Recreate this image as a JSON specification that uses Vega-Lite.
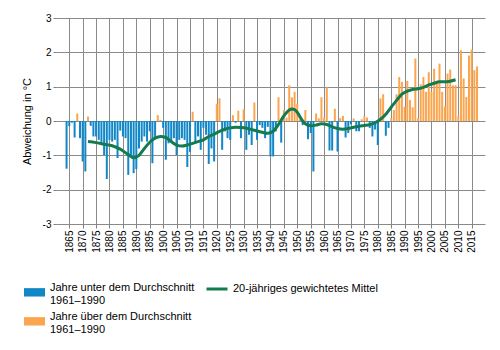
{
  "$schema": "https://vega.github.io/schema/vega-lite/v6.json",
  "autosize": {"type": "none"},
  "width": 428,
  "height": 206,
  "padding": {"left": 57, "top": 18, "right": 15, "bottom": 126},
  "background": "white",
  "config": {
    "font": "Liberation Sans",
    "view": {"stroke": null},
    "axis": {"labelColor": "#000", "titleColor": "#000", "tickColor": "#808080", "gridColor": "#8a8a8a", "gridWidth": 1, "domain": false, "labelOverlap": false}
  },
  "datasets": {
    "bars": [
      {"Jahr":1864,"Wert":-1.39,"Typ":"unter"},{"Jahr":1865,"Wert":-0.15,"Typ":"unter"},{"Jahr":1866,"Wert":-0.05,"Typ":"unter"},{"Jahr":1867,"Wert":-0.48,"Typ":"unter"},{"Jahr":1868,"Wert":0.22,"Typ":"über"},{"Jahr":1869,"Wert":-0.5,"Typ":"unter"},
      {"Jahr":1870,"Wert":-1.18,"Typ":"unter"},{"Jahr":1871,"Wert":-1.47,"Typ":"unter"},{"Jahr":1872,"Wert":0.13,"Typ":"über"},{"Jahr":1873,"Wert":-0.14,"Typ":"unter"},{"Jahr":1874,"Wert":-0.45,"Typ":"unter"},{"Jahr":1875,"Wert":-0.45,"Typ":"unter"},{"Jahr":1876,"Wert":-0.55,"Typ":"unter"},{"Jahr":1877,"Wert":-0.65,"Typ":"unter"},{"Jahr":1878,"Wert":-0.99,"Typ":"unter"},{"Jahr":1879,"Wert":-1.69,"Typ":"unter"},
      {"Jahr":1880,"Wert":-0.55,"Typ":"unter"},{"Jahr":1881,"Wert":-0.6,"Typ":"unter"},{"Jahr":1882,"Wert":-0.55,"Typ":"unter"},{"Jahr":1883,"Wert":-1.08,"Typ":"unter"},{"Jahr":1884,"Wert":-0.28,"Typ":"unter"},{"Jahr":1885,"Wert":-0.45,"Typ":"unter"},{"Jahr":1886,"Wert":-0.5,"Typ":"unter"},{"Jahr":1887,"Wert":-1.57,"Typ":"unter"},{"Jahr":1888,"Wert":-1.0,"Typ":"unter"},{"Jahr":1889,"Wert":-1.52,"Typ":"unter"},
      {"Jahr":1890,"Wert":-1.4,"Typ":"unter"},{"Jahr":1891,"Wert":-0.8,"Typ":"unter"},{"Jahr":1892,"Wert":-0.6,"Typ":"unter"},{"Jahr":1893,"Wert":-0.45,"Typ":"unter"},{"Jahr":1894,"Wert":-0.6,"Typ":"unter"},{"Jahr":1895,"Wert":-0.3,"Typ":"unter"},{"Jahr":1896,"Wert":-1.23,"Typ":"unter"},{"Jahr":1897,"Wert":-0.5,"Typ":"unter"},{"Jahr":1898,"Wert":0.17,"Typ":"über"},{"Jahr":1899,"Wert":0.03,"Typ":"über"},
      {"Jahr":1900,"Wert":-0.2,"Typ":"unter"},{"Jahr":1901,"Wert":-1.13,"Typ":"unter"},{"Jahr":1902,"Wert":-0.65,"Typ":"unter"},{"Jahr":1903,"Wert":-0.6,"Typ":"unter"},{"Jahr":1904,"Wert":-0.5,"Typ":"unter"},{"Jahr":1905,"Wert":-0.99,"Typ":"unter"},{"Jahr":1906,"Wert":-0.55,"Typ":"unter"},{"Jahr":1907,"Wert":-0.5,"Typ":"unter"},{"Jahr":1908,"Wert":-0.55,"Typ":"unter"},{"Jahr":1909,"Wert":-1.34,"Typ":"unter"},
      {"Jahr":1910,"Wert":-0.9,"Typ":"unter"},{"Jahr":1911,"Wert":0.27,"Typ":"über"},{"Jahr":1912,"Wert":-0.65,"Typ":"unter"},{"Jahr":1913,"Wert":-0.45,"Typ":"unter"},{"Jahr":1914,"Wert":-0.84,"Typ":"unter"},{"Jahr":1915,"Wert":-0.2,"Typ":"unter"},{"Jahr":1916,"Wert":-0.4,"Typ":"unter"},{"Jahr":1917,"Wert":-1.25,"Typ":"unter"},{"Jahr":1918,"Wert":-0.8,"Typ":"unter"},{"Jahr":1919,"Wert":-1.18,"Typ":"unter"},
      {"Jahr":1920,"Wert":0.5,"Typ":"über"},{"Jahr":1921,"Wert":0.66,"Typ":"über"},{"Jahr":1922,"Wert":-0.84,"Typ":"unter"},{"Jahr":1923,"Wert":-0.3,"Typ":"unter"},{"Jahr":1924,"Wert":-0.5,"Typ":"unter"},{"Jahr":1925,"Wert":-0.55,"Typ":"unter"},{"Jahr":1926,"Wert":0.17,"Typ":"über"},{"Jahr":1927,"Wert":-0.05,"Typ":"unter"},{"Jahr":1928,"Wert":0.3,"Typ":"über"},{"Jahr":1929,"Wert":-0.5,"Typ":"unter"},
      {"Jahr":1930,"Wert":0.34,"Typ":"über"},{"Jahr":1931,"Wert":-0.84,"Typ":"unter"},{"Jahr":1932,"Wert":-0.4,"Typ":"unter"},{"Jahr":1933,"Wert":-0.7,"Typ":"unter"},{"Jahr":1934,"Wert":0.54,"Typ":"über"},{"Jahr":1935,"Wert":-0.55,"Typ":"unter"},{"Jahr":1936,"Wert":-0.12,"Typ":"unter"},{"Jahr":1937,"Wert":-0.2,"Typ":"unter"},{"Jahr":1938,"Wert":-0.5,"Typ":"unter"},{"Jahr":1939,"Wert":-0.17,"Typ":"unter"},
      {"Jahr":1940,"Wert":-1.03,"Typ":"unter"},{"Jahr":1941,"Wert":-1.03,"Typ":"unter"},{"Jahr":1942,"Wert":-0.3,"Typ":"unter"},{"Jahr":1943,"Wert":0.69,"Typ":"über"},{"Jahr":1944,"Wert":-0.63,"Typ":"unter"},{"Jahr":1945,"Wert":0.32,"Typ":"über"},{"Jahr":1946,"Wert":0.1,"Typ":"über"},{"Jahr":1947,"Wert":1.04,"Typ":"über"},{"Jahr":1948,"Wert":0.69,"Typ":"über"},{"Jahr":1949,"Wert":0.85,"Typ":"über"},
      {"Jahr":1950,"Wert":0.5,"Typ":"über"},{"Jahr":1951,"Wert":0.05,"Typ":"über"},{"Jahr":1952,"Wert":-0.12,"Typ":"unter"},{"Jahr":1953,"Wert":0.32,"Typ":"über"},{"Jahr":1954,"Wert":-0.53,"Typ":"unter"},{"Jahr":1955,"Wert":-0.35,"Typ":"unter"},{"Jahr":1956,"Wert":-1.47,"Typ":"unter"},{"Jahr":1957,"Wert":0.22,"Typ":"über"},{"Jahr":1958,"Wert":0.08,"Typ":"über"},{"Jahr":1959,"Wert":0.69,"Typ":"über"},
      {"Jahr":1960,"Wert":0.1,"Typ":"über"},{"Jahr":1961,"Wert":0.98,"Typ":"über"},{"Jahr":1962,"Wert":-0.86,"Typ":"unter"},{"Jahr":1963,"Wert":-0.86,"Typ":"unter"},{"Jahr":1964,"Wert":0.36,"Typ":"über"},{"Jahr":1965,"Wert":-0.89,"Typ":"unter"},{"Jahr":1966,"Wert":0.08,"Typ":"über"},{"Jahr":1967,"Wert":0.15,"Typ":"über"},{"Jahr":1968,"Wert":-0.48,"Typ":"unter"},{"Jahr":1969,"Wert":-0.35,"Typ":"unter"},
      {"Jahr":1970,"Wert":-0.1,"Typ":"unter"},{"Jahr":1971,"Wert":0.07,"Typ":"über"},{"Jahr":1972,"Wert":-0.3,"Typ":"unter"},{"Jahr":1973,"Wert":-0.3,"Typ":"unter"},{"Jahr":1974,"Wert":0.05,"Typ":"über"},{"Jahr":1975,"Wert":0.14,"Typ":"über"},{"Jahr":1976,"Wert":0.1,"Typ":"über"},{"Jahr":1977,"Wert":-0.2,"Typ":"unter"},{"Jahr":1978,"Wert":-0.45,"Typ":"unter"},{"Jahr":1979,"Wert":-0.25,"Typ":"unter"},
      {"Jahr":1980,"Wert":-0.7,"Typ":"unter"},{"Jahr":1981,"Wert":0.66,"Typ":"über"},{"Jahr":1982,"Wert":0.78,"Typ":"über"},{"Jahr":1983,"Wert":-0.43,"Typ":"unter"},{"Jahr":1984,"Wert":-0.2,"Typ":"unter"},{"Jahr":1985,"Wert":0.08,"Typ":"über"},{"Jahr":1986,"Wert":0.32,"Typ":"über"},{"Jahr":1987,"Wert":0.78,"Typ":"über"},{"Jahr":1988,"Wert":1.28,"Typ":"über"},{"Jahr":1989,"Wert":1.14,"Typ":"über"},
      {"Jahr":1990,"Wert":0.42,"Typ":"über"},{"Jahr":1991,"Wert":1.17,"Typ":"über"},{"Jahr":1992,"Wert":0.61,"Typ":"über"},{"Jahr":1993,"Wert":0.4,"Typ":"über"},{"Jahr":1994,"Wert":1.82,"Typ":"über"},{"Jahr":1995,"Wert":0.08,"Typ":"über"},{"Jahr":1996,"Wert":1.07,"Typ":"über"},{"Jahr":1997,"Wert":1.28,"Typ":"über"},{"Jahr":1998,"Wert":0.85,"Typ":"über"},{"Jahr":1999,"Wert":1.42,"Typ":"über"},
      {"Jahr":2000,"Wert":0.85,"Typ":"über"},{"Jahr":2001,"Wert":1.52,"Typ":"über"},{"Jahr":2002,"Wert":1.17,"Typ":"über"},{"Jahr":2003,"Wert":1.67,"Typ":"über"},{"Jahr":2004,"Wert":0.85,"Typ":"über"},{"Jahr":2005,"Wert":0.42,"Typ":"über"},{"Jahr":2006,"Wert":1.38,"Typ":"über"},{"Jahr":2007,"Wert":1.5,"Typ":"über"},{"Jahr":2008,"Wert":1.04,"Typ":"über"},{"Jahr":2009,"Wert":1.04,"Typ":"über"},
      {"Jahr":2010,"Wert":0.13,"Typ":"über"},{"Jahr":2011,"Wert":2.06,"Typ":"über"},{"Jahr":2012,"Wert":1.24,"Typ":"über"},{"Jahr":2013,"Wert":0.7,"Typ":"über"},{"Jahr":2014,"Wert":1.91,"Typ":"über"},{"Jahr":2015,"Wert":2.08,"Typ":"über"},{"Jahr":2016,"Wert":1.48,"Typ":"über"},{"Jahr":2017,"Wert":1.59,"Typ":"über"}
    ],
    "mittel": [
      {"Jahr":1872,"Wert":-0.6},{"Jahr":1875,"Wert":-0.63},{"Jahr":1878,"Wert":-0.68},{"Jahr":1881,"Wert":-0.72},{"Jahr":1884,"Wert":-0.82},{"Jahr":1887,"Wert":-0.98},{"Jahr":1889,"Wert":-1.07},{"Jahr":1891,"Wert":-1.0},{"Jahr":1893,"Wert":-0.8},{"Jahr":1895,"Wert":-0.62},{"Jahr":1897,"Wert":-0.5},{"Jahr":1899,"Wert":-0.45},{"Jahr":1901,"Wert":-0.48},{"Jahr":1903,"Wert":-0.6},{"Jahr":1905,"Wert":-0.7},{"Jahr":1907,"Wert":-0.73},{"Jahr":1909,"Wert":-0.7},{"Jahr":1911,"Wert":-0.65},{"Jahr":1913,"Wert":-0.6},{"Jahr":1915,"Wert":-0.55},{"Jahr":1917,"Wert":-0.45},{"Jahr":1919,"Wert":-0.38},{"Jahr":1921,"Wert":-0.3},{"Jahr":1923,"Wert":-0.24},{"Jahr":1925,"Wert":-0.2},{"Jahr":1927,"Wert":-0.18},{"Jahr":1929,"Wert":-0.19},{"Jahr":1931,"Wert":-0.21},{"Jahr":1933,"Wert":-0.25},{"Jahr":1935,"Wert":-0.29},{"Jahr":1937,"Wert":-0.33},{"Jahr":1939,"Wert":-0.36},{"Jahr":1941,"Wert":-0.3},{"Jahr":1943,"Wert":-0.1},{"Jahr":1945,"Wert":0.15},{"Jahr":1947,"Wert":0.32},{"Jahr":1948,"Wert":0.35},{"Jahr":1949,"Wert":0.33},{"Jahr":1950,"Wert":0.25},{"Jahr":1951,"Wert":0.12},{"Jahr":1952,"Wert":0.0},{"Jahr":1953,"Wert":-0.08},{"Jahr":1955,"Wert":-0.14},{"Jahr":1957,"Wert":-0.12},{"Jahr":1959,"Wert":-0.08},{"Jahr":1961,"Wert":-0.1},{"Jahr":1963,"Wert":-0.17},{"Jahr":1965,"Wert":-0.22},{"Jahr":1967,"Wert":-0.24},{"Jahr":1969,"Wert":-0.22},{"Jahr":1971,"Wert":-0.18},{"Jahr":1973,"Wert":-0.15},{"Jahr":1975,"Wert":-0.13},{"Jahr":1977,"Wert":-0.11},{"Jahr":1979,"Wert":-0.05},{"Jahr":1981,"Wert":0.05},{"Jahr":1983,"Wert":0.2},{"Jahr":1985,"Wert":0.4},{"Jahr":1987,"Wert":0.6},{"Jahr":1989,"Wert":0.78},{"Jahr":1991,"Wert":0.87},{"Jahr":1993,"Wert":0.92},{"Jahr":1995,"Wert":0.94},{"Jahr":1997,"Wert":0.98},{"Jahr":1999,"Wert":1.05},{"Jahr":2001,"Wert":1.1},{"Jahr":2003,"Wert":1.14},{"Jahr":2005,"Wert":1.14},{"Jahr":2007,"Wert":1.16},{"Jahr":2009,"Wert":1.2}
    ]
  },
  "encoding": {
    "x": {"field": "Jahr", "type": "quantitative",
      "scale": {"domain": [1862.3, 2018.1], "nice": false, "zero": false},
      "axis": {"title": null, "values": [1865,1870,1875,1880,1885,1890,1895,1900,1905,1910,1915,1920,1925,1930,1935,1940,1945,1950,1955,1960,1965,1970,1975,1980,1985,1990,1995,2000,2005,2010,2015],
        "tickCount": 200, "format": "d", "labelAngle": -90, "labelFontSize": 10, "tickSize": 4, "labelPadding": 2, "grid": true, "labelAlign": "right", "labelBaseline": "middle", "labelOverlap": false}},
    "y": {"field": "Wert", "type": "quantitative",
      "scale": {"domain": [-3, 3], "nice": false},
      "axis": {"title": "Abweichung in °C", "values": [-3,-2,-1,0,1,2,3], "tickCount": 50, "labelExpr": "'' + datum.value", "labelFontSize": 10, "titleFontSize": 11, "titleFontWeight": "normal", "tickSize": 4, "labelPadding": 2, "titlePadding": 10, "grid": true, "labelOverlap": false}}
  },
  "layer": [
    {
      "data": {"name": "bars"},
      "mark": {"type": "bar", "size": 2},
      "encoding": {
        "fill": {"field": "Typ", "type": "nominal",
          "scale": {"domain": ["unter", "über"], "range": ["#1187c8", "#fba54e"]},
          "legend": {"orient": "none", "legendX": -33, "legendY": 259, "title": null, "direction": "vertical",
            "labelExpr": "datum.label == 'unter' ? ['Jahre unter dem Durchschnitt', '1961–1990'] : ['Jahre über dem Durchschnitt', '1961–1990']",
            "labelFontSize": 11, "labelLimit": 300, "labelOffset": 5, "rowPadding": -5,
            "symbolType": "M-1,0.06H1V0.86H-1Z", "symbolSize": 441, "symbolStrokeWidth": 0}}
      }
    },
    {
      "data": {"name": "mittel"},
      "mark": {"type": "line", "interpolate": "monotone", "strokeWidth": 3},
      "encoding": {
        "stroke": {"datum": "20-jähriges gewichtetes Mittel", "type": "nominal",
          "scale": {"range": ["#137b4f"]},
          "legend": {"orient": "none", "legendX": 148, "legendY": 259, "title": null,
            "labelFontSize": 11, "labelLimit": 300, "labelOffset": 4,
            "symbolType": "stroke", "symbolSize": 441, "symbolStrokeWidth": 3}}
      }
    }
  ]
}
